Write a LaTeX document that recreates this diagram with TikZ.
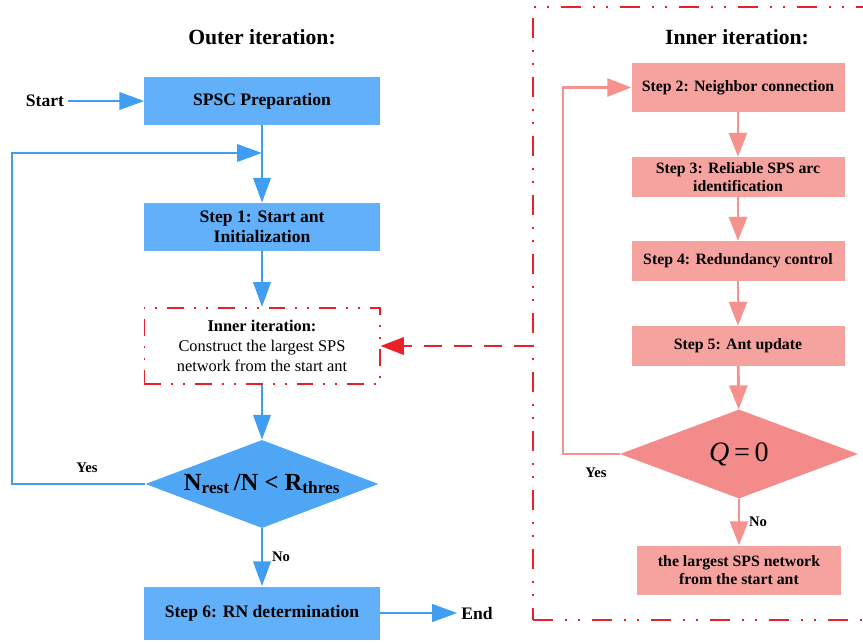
\documentclass[tikz,border=0pt]{standalone}
\usepackage{fontspec}
\setmainfont{Liberation Serif}
\usepackage{tikz}
\usetikzlibrary{positioning,arrows.meta,shapes.geometric}
\definecolor{boxb}{HTML}{62B0FA}
\definecolor{lineb}{HTML}{3F9EF2}
\definecolor{diab}{HTML}{4FA6F5}
\definecolor{boxp}{HTML}{F6A3A0}
\definecolor{linep}{HTML}{F6928E}
\definecolor{diap}{HTML}{F28B89}
\definecolor{dashr}{HTML}{E8202A}
\newcommand{\fsz}[2]{\fontsize{#1}{#2}\selectfont}

\begin{document}
\begin{tikzpicture}[x=0.03cm,y=-0.03cm,
  ttl/.style={font=\fsz{18.5}{21}\bfseries},
  lab/.style={font=\fsz{12.5}{15}\bfseries},
  bbox/.style={fill=boxb,minimum width=7.05cm,minimum height=1.44cm,inner sep=2pt,align=center,font=\fsz{15}{17.5}\bfseries},
  pbox/.style={fill=boxp,minimum width=6.39cm,minimum height=1.2cm,inner sep=2pt,align=center,font=\fsz{13.5}{15.5}\bfseries},
  ibox/.style={draw=dashr,line width=1.7pt,dash pattern=on 0.5cm off 0.3cm on 0.06cm off 0.3cm on 0.06cm off 0.3cm,minimum width=7.05cm,minimum height=2.28cm,align=center,font=\fsz{14}{17}},
  obox/.style={draw=dashr,line width=1.7pt,dash pattern=on 0.6cm off 0.35cm on 0.06cm off 0.35cm on 0.06cm off 0.35cm,minimum width=10.11cm,minimum height=18.39cm},
  bdia/.style={diamond,fill=diab,aspect=2.65,minimum width=6.99cm,minimum height=2.64cm,inner sep=0pt},
  pdia/.style={diamond,fill=diap,aspect=2.67,minimum width=7.14cm,minimum height=2.67cm,inner sep=0pt},
  barr/.style={draw=lineb,line width=2.5pt,-{Triangle[length=0.75cm,width=0.52cm]}},
  parr/.style={draw=linep,line width=2.5pt,-{Triangle[length=0.72cm,width=0.54cm]}},
  rarr/.style={draw=dashr,line width=1.7pt,dash pattern=on 0.55cm off 0.35cm,-{Triangle[length=0.7cm,width=0.52cm]}}]
  \useasboundingbox (0,0) rectangle (863,643);
  % titles
  \node[ttl] (otitle) at (262,37) {Outer iteration:};
  \node[ttl] (ititle) at (737,37) {Inner iteration:};
  % outer iteration
  \node[lab,font=\fsz{15}{17}\bfseries] (start) at (45,101) {Start};
  \node[bbox] (spsc) at (262,101) {SPSC Preparation};
  \node[bbox] (s1) at (262,227) {Step 1: Start ant\\Initialization};
  \node[ibox] (inner) at (262,346) {\textbf{Inner iteration:}\\Construct the largest SPS\\network from the start ant};
  \node[bdia] (ratio) at (262,484) {\fsz{21}{24}\bfseries N\textsubscript{rest}\,/N < R\textsubscript{thres}};
  \node[bbox,minimum height=1.59cm] (s6) at (262,613) {Step 6: RN determination};
  \node[lab,font=\fsz{15}{17}\bfseries] (end) at (477,613) {End};
  \node[lab] (yes1) at (87,468) {Yes};
  \coordinate (join) at (262,153);
  \draw[barr] (start.east) -- (start.east -| spsc.west);
  \draw[barr] (spsc) -- (s1);
  \draw[barr] (ratio.west) -- (12,484) |- (join);
  \draw[barr] (s1) -- (inner);
  \draw[barr] (inner) -- (ratio);
  \draw[barr] (ratio) -- node[lab,right=4pt] (no1) {No} (s6);
  \draw[barr] (s6.east) -- (s6.east -| end.west);
  % inner iteration
  \node[obox] (outer) at (701.5,313.5) {};
  \node[pbox,minimum height=1.47cm] (s2) at (738,87.5) {Step 2: Neighbor connection};
  \node[pbox] (s3) at (738,177) {Step 3: Reliable SPS arc\\identification};
  \node[pbox] (s4) at (738,261) {Step 4: Redundancy control};
  \node[pbox] (s5) at (738,346) {Step 5: Ant update};
  \node[pdia] (q) at (739,454) {\fsz{24}{28}\textit{Q}\,=\,0};
  \node[pbox,minimum width=6.12cm,minimum height=1.47cm] (net) at (739,570) {the largest SPS network\\from the start ant};
  \node[lab] (yes2) at (596,473) {Yes};
  \draw[parr] (s2) -- (s3);
  \draw[parr] (s3) -- (s4);
  \draw[parr] (s4) -- (s5);
  \draw[parr] (s5) -- (q);
  \draw[parr] (q.west) -- (563,454) |- (s2);
  \draw[parr] (q) -- node[lab,right=4pt] (no2) {No} (net);
  \draw[rarr] (inner -| outer.west) -- (inner.east);
\end{tikzpicture}
\end{document}
